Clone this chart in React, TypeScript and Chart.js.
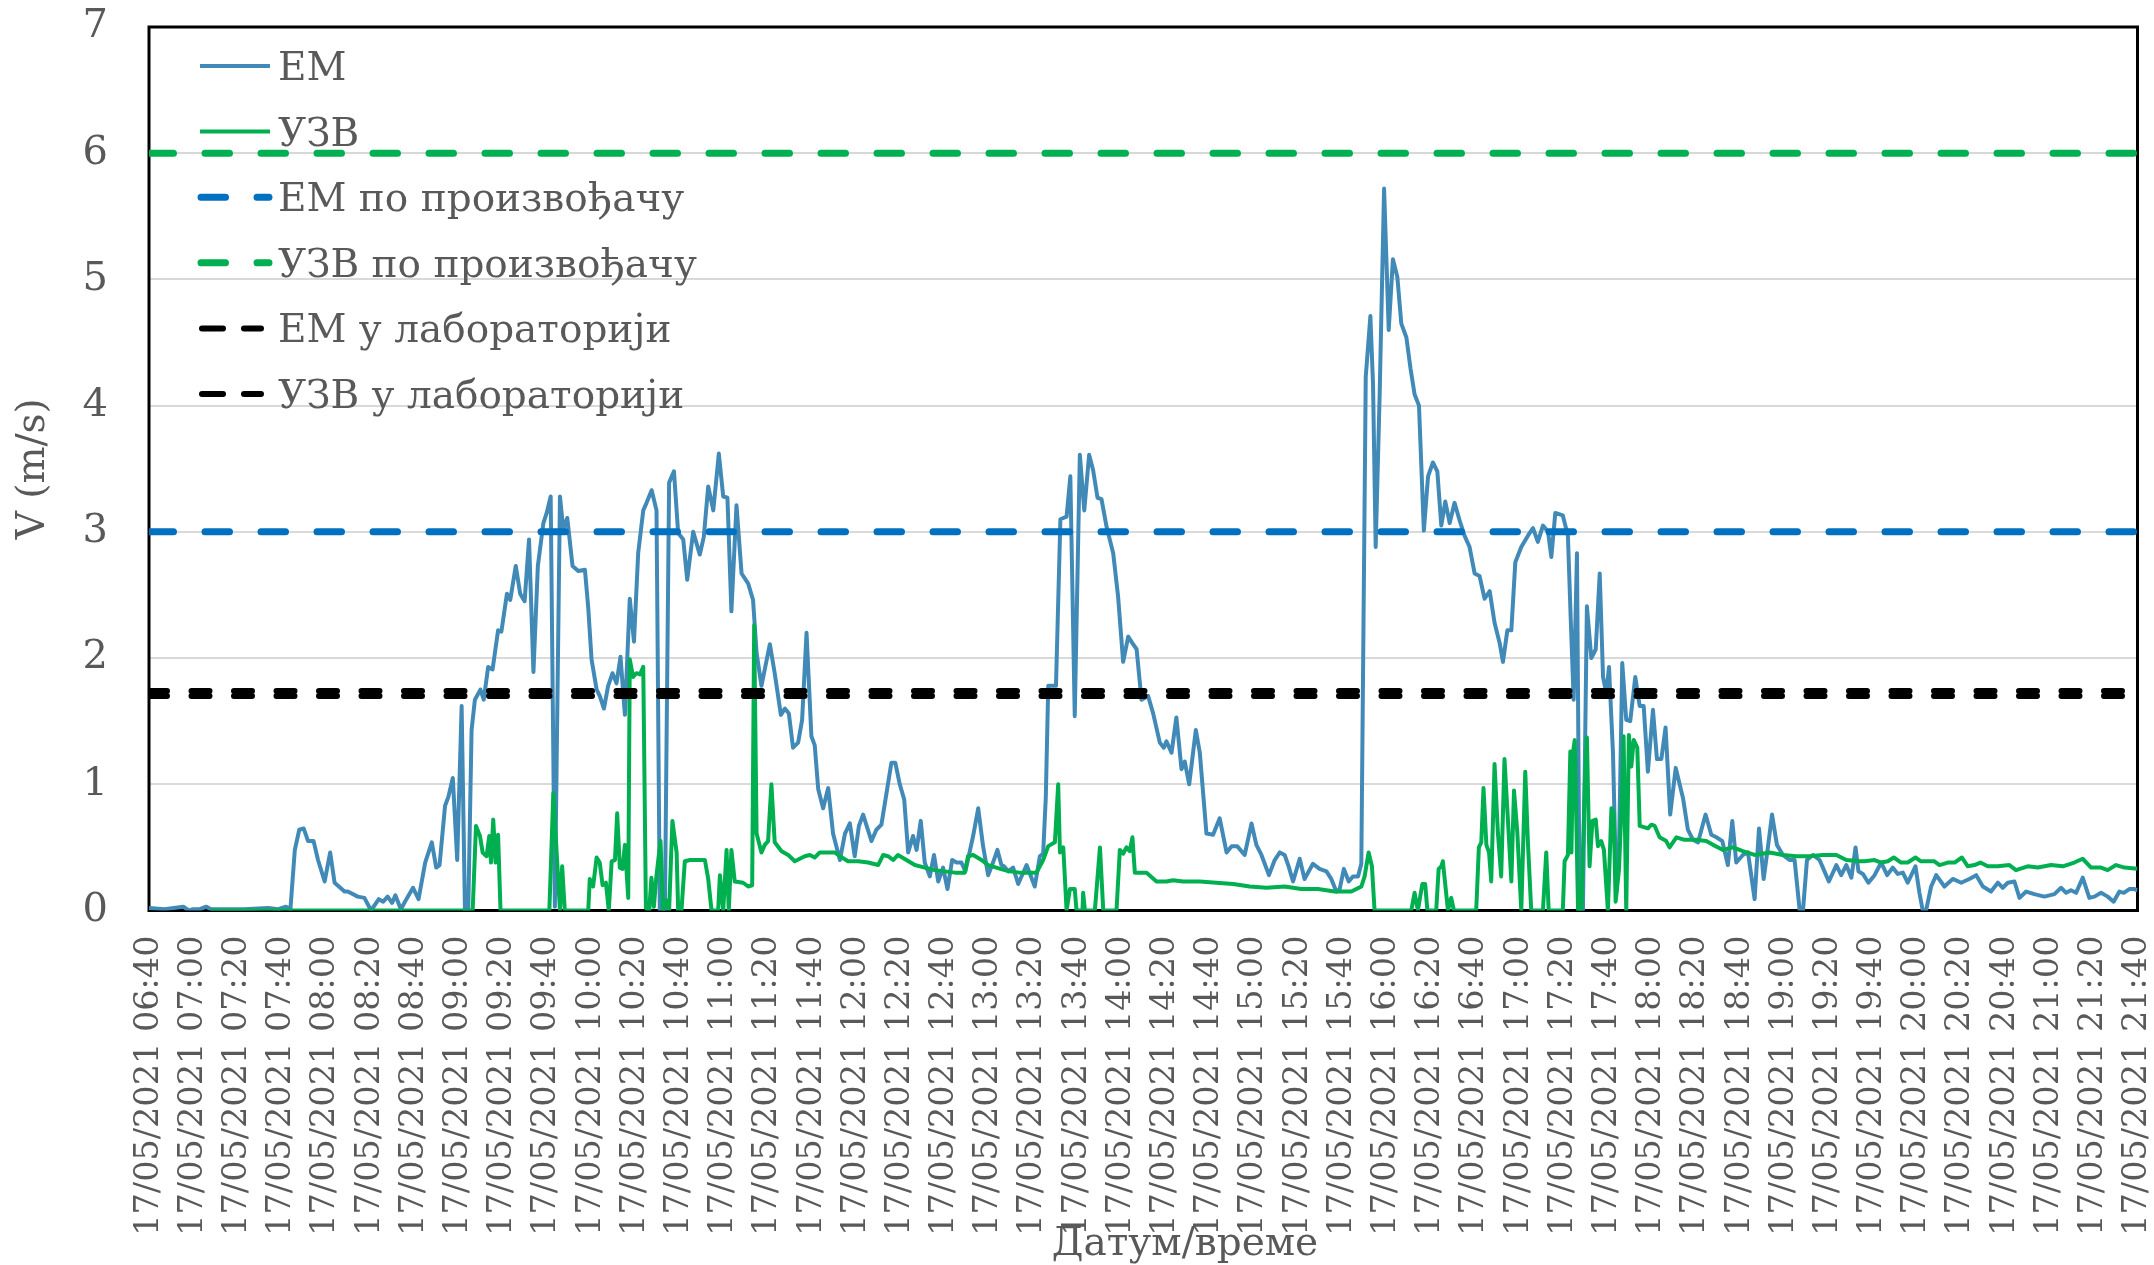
import React, { useEffect, useRef } from 'react';
import { Chart, registerables } from 'chart.js';

Chart.register(...registerables);

// ---------- data ----------
const DATE = '17/05/2021';
const X_MIN = 400; // minutes since midnight (06:40)
const X_MAX = 1300; // 21:40
const X_STEP = 20;
const tickTimes = [
  '06:40', '07:00', '07:20', '07:40', '08:00', '08:20', '08:40', '09:00', '09:20', '09:40',
  '10:00', '10:20', '10:40', '11:00', '11:20', '11:40', '12:00', '12:20', '12:40', '13:00',
  '13:20', '13:40', '14:00', '14:20', '14:40', '15:00', '15:20', '15:40', '16:00', '16:20',
  '16:40', '17:00', '17:20', '17:40', '18:00', '18:20', '18:40', '19:00', '19:20', '19:40',
  '20:00', '20:20', '20:40', '21:00', '21:20', '21:40',
];
const yTicks = [0, 1, 2, 3, 4, 5, 6, 7];

const seriesLabels = [
  'ЕМ',
  'УЗВ',
  'ЕМ по произвођачу',
  'УЗВ по произвођачу',
  'ЕМ у лабораторији',
  'УЗВ у лабораторији',
];

// [minute of day, V (m/s)]
const emSeries: [number, number][] = [
  [400, 0.02], [407, 0.01], [415.5, 0.03], [418, 0], [420, 0.01], [423, 0.01], [426, 0.03], [428, 0.01],
  [443, 0.01], [454, 0.02], [458.5, 0.01], [462, 0.03], [464, 0.01], [466, 0.48], [468, 0.64], [470, 0.65],
  [472, 0.55], [474.5, 0.55], [476.5, 0.4], [479.5, 0.23], [482, 0.46], [484, 0.22], [488.5, 0.15], [490, 0.15],
  [494.5, 0.11], [497.5, 0.1], [500.5, 0], [504, 0.09], [506, 0.07], [508, 0.11], [510, 0.06], [511.5, 0.12],
  [514, 0.01], [516.5, 0.09], [519.5, 0.18], [522, 0.09], [525, 0.38], [528, 0.54], [530, 0.34], [531.5, 0.36],
  [534, 0.83], [535.5, 0.9], [537.5, 1.05], [539.5, 0.4], [541.5, 1.62], [543, 0], [544.5, 0], [546, 1.43],
  [547.5, 1.67], [550, 1.75], [551.5, 1.67], [553.5, 1.93], [555.5, 1.91], [558, 2.22], [559.5, 2.21], [562, 2.51],
  [563.5, 2.46], [566, 2.73], [568, 2.51], [570, 2.45], [572, 2.94], [574, 1.89], [576, 2.73], [578.5, 3.07],
  [580, 3.15], [581.8, 3.28], [583.7, 0.03], [586, 3.28], [587.5, 3.02], [589.3, 3.11], [591.7, 2.73], [594.3, 2.69],
  [597.3, 2.7], [598.8, 2.4], [600.3, 1.99], [602.6, 1.75], [604, 1.7], [605.9, 1.6], [607.8, 1.78], [609.8, 1.88],
  [611.6, 1.8], [613.4, 2.01], [615.4, 1.55], [617.6, 2.47], [619.5, 2.13], [621.4, 2.83], [623.7, 3.17], [625.2, 3.23],
  [627.5, 3.33], [629.7, 3.17], [631.2, 0], [633.5, 0], [635.4, 3.39], [637.6, 3.48], [639.5, 2.99], [641.8, 2.94],
  [643.6, 2.62], [646.3, 3.0], [649.3, 2.82], [651.1, 2.96], [653.1, 3.36], [655.4, 3.17], [657.9, 3.62], [659.9, 3.28],
  [661.8, 3.27], [663.6, 2.37], [665.9, 3.21], [668.2, 2.67], [671.2, 2.59], [673.4, 2.46], [675, 2.04], [677.2, 1.78],
  [681, 2.11], [683.2, 1.88], [686, 1.55], [687.8, 1.6], [689.6, 1.56], [691.5, 1.29], [693.8, 1.33], [695.6, 1.51],
  [697.6, 2.2], [699.8, 1.38], [701.3, 1.31], [702.9, 0.96], [705.1, 0.81], [707.4, 0.97], [709.6, 0.61], [712.7, 0.4],
  [715, 0.61], [717.2, 0.69], [719.4, 0.43], [721.3, 0.67], [723.2, 0.76], [727, 0.55], [729.2, 0.64], [731.5, 0.68],
  [733.8, 0.93], [736, 1.17], [737.8, 1.17], [739.8, 1.0], [741.8, 0.88], [743.6, 0.46], [745.8, 0.59], [747.4, 0.48],
  [749.3, 0.71], [751.1, 0.38], [753.4, 0.27], [755.3, 0.44], [757.2, 0.23], [759.4, 0.34], [761.4, 0.17], [763.5, 0.4],
  [765.5, 0.38], [767.7, 0.38], [769.5, 0.31], [773, 0.59], [775.3, 0.81], [777.5, 0.51], [779.8, 0.28], [782, 0.38],
  [784, 0.48], [785.8, 0.36], [787, 0.35], [788.9, 0.31], [791.1, 0.34], [793.4, 0.21], [797.2, 0.36], [800.9, 0.19],
  [803.2, 0.43], [804.7, 0.45], [805.9, 0.9], [807, 1.78], [810.5, 1.78], [812.5, 3.1], [815.3, 3.12], [817, 3.44],
  [819, 1.54], [821.3, 3.61], [823.3, 3.17], [825.5, 3.61], [827.3, 3.49], [829.3, 3.27], [831.1, 3.26], [833.4, 3.04],
  [836.4, 2.83], [838.6, 2.49], [840.9, 1.97], [843.2, 2.17], [845, 2.12], [847, 2.07], [849.2, 1.67], [852.2, 1.7],
  [854.5, 1.56], [857.5, 1.33], [859.3, 1.29], [860.5, 1.34], [862.8, 1.25], [865, 1.53], [867.3, 1.12], [868.8, 1.18],
  [870.8, 1.0], [873.8, 1.43], [875.6, 1.25], [878.6, 0.61], [881.6, 0.6], [884.6, 0.73], [887.7, 0.46], [890, 0.51],
  [892.5, 0.51], [895.9, 0.44], [899, 0.69], [901.2, 0.52], [903.5, 0.44], [906.9, 0.28], [909.5, 0.4], [911.8, 0.46],
  [914, 0.44], [915.8, 0.35], [917.8, 0.23], [920.8, 0.41], [923, 0.25], [926.8, 0.37], [929.8, 0.33], [932.9, 0.31],
  [935.1, 0.25], [937.4, 0.15], [938.9, 0.17], [940.8, 0.33], [943, 0.23], [944.9, 0.27], [947.2, 0.27], [948.7, 0.37],
  [950.7, 4.23], [952.8, 4.71], [954, 4.17], [955.2, 2.88], [957, 4.09], [959, 5.72], [961.1, 4.6], [963, 5.16],
  [965, 5.02], [966.8, 4.65], [969.1, 4.54], [971, 4.29], [972.8, 4.09], [974.8, 4.0], [977, 3.01], [978.9, 3.44],
  [981.1, 3.55], [983.1, 3.48], [984.9, 3.05], [986.7, 3.24], [988.7, 3.07], [990.9, 3.23], [993.2, 3.09], [995.4, 2.97],
  [997.7, 2.88], [1000, 2.67], [1002.2, 2.65], [1004.5, 2.47], [1006.8, 2.53], [1009, 2.28], [1011.3, 2.12], [1012.8, 1.97],
  [1014.8, 2.22], [1016.6, 2.22], [1018.4, 2.76], [1021.1, 2.88], [1024.1, 2.97], [1026.4, 3.03], [1028.6, 2.92], [1030.9, 3.05],
  [1033.2, 3.0], [1034.7, 2.8], [1036.5, 3.15], [1039.9, 3.13], [1042.2, 2.97], [1043.5, 2.3], [1044.8, 1.67], [1046.3, 2.83],
  [1047.5, 0], [1049, 0], [1050.8, 2.41], [1052.8, 2.0], [1054.8, 2.07], [1056.6, 2.67], [1058.1, 1.85], [1059.6, 1.72],
  [1060.8, 1.93], [1062.6, 1.25], [1064.1, 0.14], [1065.3, 0.45], [1066.8, 1.96], [1068.6, 1.51], [1070.4, 1.5], [1072.7, 1.85],
  [1074.7, 1.62], [1076.5, 1.62], [1078.4, 1.1], [1080.7, 1.59], [1082.5, 1.2], [1084.5, 1.2], [1086.4, 1.45], [1088.5, 0.76],
  [1091, 1.13], [1094.3, 0.89], [1096.5, 0.64], [1098.8, 0.56], [1101.1, 0.54], [1104.5, 0.76], [1107.1, 0.6], [1109.4, 0.58],
  [1112.1, 0.55], [1114.6, 0.36], [1116.6, 0.71], [1118.4, 0.38], [1121.4, 0.44], [1123.7, 0.46], [1126.7, 0.09], [1128.7, 0.65],
  [1130.8, 0.25], [1132.7, 0.5], [1134.6, 0.76], [1136.8, 0.52], [1139.5, 0.44], [1142.5, 0.4], [1144.8, 0.4], [1147.1, 0],
  [1148.6, 0], [1150.4, 0.4], [1153.1, 0.44], [1156.1, 0.4], [1157.6, 0.34], [1160.3, 0.23], [1163.7, 0.36], [1165.9, 0.28],
  [1168.2, 0.36], [1170.5, 0.26], [1172.4, 0.5], [1173.7, 0.31], [1175.7, 0.29], [1178.2, 0.22], [1181, 0.28], [1184, 0.38],
  [1186.7, 0.28], [1189.2, 0.34], [1191.5, 0.29], [1193.8, 0.3], [1196, 0.22], [1199.5, 0.35], [1201.3, 0.14], [1202.8, 0],
  [1204.3, 0], [1206.6, 0.19], [1208.9, 0.28], [1212.6, 0.19], [1216.4, 0.25], [1220.2, 0.22], [1223.9, 0.25], [1227, 0.28],
  [1230, 0.19], [1233.7, 0.15], [1236.8, 0.22], [1239, 0.18], [1241.3, 0.22], [1244.3, 0.23], [1246.6, 0.1], [1249.6, 0.15],
  [1253.3, 0.13], [1257.9, 0.11], [1262.4, 0.13], [1265.4, 0.18], [1267.7, 0.14], [1269.9, 0.16], [1272.2, 0.14], [1275.2, 0.26],
  [1278.2, 0.1], [1280.5, 0.11], [1283.5, 0.14], [1286.5, 0.11], [1289.2, 0.07], [1291.8, 0.15], [1293.8, 0.14], [1296.3, 0.17],
  [1298.6, 0.17], [1300, 0.16],
];

const uzvSeries: [number, number][] = [
  [428, 0], [527, 0], [546.5, 0], [548, 0.67], [549.8, 0.59], [551, 0.46], [552.8, 0.43], [554, 0.59],
  [554.8, 0.38], [555.8, 0.72], [556.9, 0.38], [558, 0.6], [559.1, 0], [581.2, 0], [583, 0.93], [584.5, 0.46],
  [586, 0], [587, 0.35], [588.2, 0], [598.8, 0], [599.5, 0.25], [601, 0.19], [602.6, 0.42], [604, 0.38],
  [605.3, 0.2], [606.8, 0.22], [608.1, 0], [609.4, 0.39], [610.9, 0.4], [611.9, 0.77], [613.1, 0.34], [614.3, 0.33],
  [615.4, 0.52], [616.9, 0.1], [617.6, 1.99], [619.1, 1.85], [620.6, 1.88], [622.2, 1.87], [623.7, 1.93], [624.9, 0.02],
  [626.4, 0], [627.4, 0.26], [628.5, 0.03], [629.7, 0.28], [631.5, 0.55], [632.7, 0], [634.2, 0.08], [635.4, 0],
  [636.9, 0.71], [638.8, 0.46], [639.5, 0], [641, 0], [642.5, 0.39], [644.8, 0.4], [651.6, 0.4], [653.1, 0.25],
  [654.6, 0], [657.6, 0], [658.4, 0.28], [659.9, 0], [661.4, 0.48], [662.4, 0], [663.6, 0.48], [665.1, 0.23],
  [668.9, 0.22], [671.2, 0.19], [673, 0.2], [673.9, 2.26], [675, 0.61], [677.2, 0.46], [678.7, 0.52], [680.2, 0.55],
  [681.7, 1.0], [683.2, 0.54], [686.3, 0.47], [689.3, 0.44], [692.3, 0.39], [696.8, 0.43], [699.1, 0.44], [701.3, 0.42],
  [703.6, 0.46], [708.9, 0.46], [710.4, 0.46], [712.7, 0.43], [716.4, 0.39], [721, 0.39], [725.5, 0.38], [730, 0.36],
  [732.3, 0.44], [734.5, 0.43], [736.8, 0.4], [739, 0.44], [742.8, 0.4], [746.6, 0.36], [751.1, 0.34], [755.6, 0.32],
  [760.2, 0.31], [764.7, 0.3], [769.2, 0.3], [770.7, 0.43], [773, 0.44], [776.8, 0.4], [779.8, 0.36], [783.5, 0.34],
  [787.3, 0.32], [789.6, 0.31], [794.1, 0.3], [798.7, 0.3], [801.7, 0.3], [804.7, 0.4], [807, 0.51], [810, 0.54],
  [811.5, 1.0], [812.3, 0.46], [813.8, 0.5], [815.3, 0], [816.8, 0.17], [819, 0.17], [819.8, 0], [822.5, 0],
  [822.8, 0.14], [823.6, 0], [828.1, 0], [830.4, 0.5], [831.9, 0], [837.9, 0], [839.4, 0.48], [840.9, 0.45],
  [842.4, 0.5], [843.9, 0.47], [845.1, 0.58], [846.2, 0.3], [851.5, 0.3], [856, 0.23], [860.5, 0.23], [863.5, 0.24],
  [868, 0.23], [875.6, 0.23], [883.1, 0.22], [890.7, 0.21], [898.2, 0.19], [905.8, 0.18], [914, 0.19], [921.5, 0.17],
  [929.1, 0.17], [936.6, 0.15], [944.2, 0.15], [948.7, 0.19], [950.2, 0.27], [952, 0.46], [953.5, 0.35], [954.7, 0],
  [971.3, 0], [972.8, 0.14], [974.3, 0], [976.3, 0.21], [977.6, 0.21], [978.6, 0], [982.6, 0], [983.7, 0.33],
  [984.9, 0.35], [985.6, 0.39], [987.2, 0.12], [987.9, 0], [989.4, 0.1], [990.6, 0], [1000.7, 0], [1001.9, 0.5],
  [1003, 0.54], [1004, 0.97], [1005.3, 0.52], [1006.5, 0.46], [1007.5, 0.23], [1009, 1.16], [1010.5, 0.62], [1012, 0.27],
  [1013.5, 1.2], [1015.1, 0.7], [1016.6, 0.23], [1017.8, 0.95], [1019.3, 0.62], [1021.1, 0], [1022.9, 1.1], [1024.1, 0.54],
  [1025.6, 0], [1030.9, 0], [1032.4, 0.46], [1033.5, 0], [1039.9, 0], [1040.7, 0.39], [1042.2, 0.44], [1043.3, 1.26],
  [1043.8, 0.46], [1044.5, 1.25], [1045.3, 1.35], [1046.8, 0], [1048.3, 0], [1049.8, 0.98], [1050.8, 1.37], [1052, 0.35],
  [1053.3, 0.71], [1054.8, 0.72], [1055.8, 0.51], [1057.3, 0.55], [1058.5, 0.48], [1060.3, 0], [1061.9, 0.81], [1062.9, 0.77],
  [1063.8, 0.07], [1065.3, 0.32], [1066.8, 0.96], [1067.4, 1.38], [1068.6, 0], [1069.8, 1.39], [1070.9, 1.14], [1072, 1.35],
  [1073.6, 1.29], [1074.7, 0.67], [1078.4, 0.65], [1080, 0.68], [1081.5, 0.67], [1083.7, 0.58], [1086.7, 0.55], [1088.2, 0.5],
  [1091.3, 0.58], [1095, 0.56], [1100.3, 0.56], [1104.8, 0.55], [1107.9, 0.52], [1112.4, 0.48], [1116.9, 0.5], [1121.4, 0.47],
  [1126.7, 0.44], [1133.5, 0.46], [1139.5, 0.44], [1145.6, 0.43], [1151.6, 0.43], [1157.6, 0.44], [1163.7, 0.44], [1168.2, 0.4],
  [1174.2, 0.39], [1176.4, 0.39], [1181, 0.4], [1184, 0.38], [1187, 0.39], [1189.7, 0.42], [1193, 0.38], [1196, 0.38],
  [1199.5, 0.42], [1202, 0.39], [1208.1, 0.39], [1210.4, 0.36], [1214.1, 0.38], [1217.2, 0.38], [1220.5, 0.42], [1223.2, 0.35],
  [1226.2, 0.36], [1228.9, 0.38], [1232.2, 0.35], [1236.8, 0.35], [1242, 0.36], [1245, 0.32], [1250.3, 0.35], [1254.9, 0.34],
  [1260.9, 0.36], [1266.2, 0.35], [1271.4, 0.38], [1275.2, 0.41], [1279, 0.34], [1283.5, 0.34], [1286.5, 0.32], [1290.3, 0.36],
  [1294.1, 0.34], [1300, 0.33],
];

const emManufacturer = 3;
const uzvManufacturer = 6;
const emLab = 1.74;
const uzvLab = 1.7;

const xTitle = 'Датум/време';
const yTitle = 'V (m/s)';

// ---------- styles ----------
const FONT = '"DejaVu Serif", "Liberation Serif", serif';
const TEXT = '#595959';
const EM_COLOR = '#418AB8';
const UZV_COLOR = '#00B050';
const BLUE_REF = '#0070C0';
const GREEN_REF = '#00B050';
const BLACK_REF = '#000000';

const legendStyles = [
  { color: EM_COLOR, width: 4, dash: [] as number[], x0: 51, x1: 121 },
  { color: UZV_COLOR, width: 4, dash: [] as number[], x0: 51, x1: 121 },
  { color: BLUE_REF, width: 7, dash: [24.5, 31.5], x0: 52, x1: 120 },
  { color: GREEN_REF, width: 7, dash: [24.5, 31.5], x0: 52, x1: 120 },
  { color: BLACK_REF, width: 6, dash: [21, 21], x0: 53, x1: 112 },
  { color: BLACK_REF, width: 6, dash: [21, 21], x0: 53, x1: 112 },
];

const toXY = (s: [number, number][]) => s.map(([x, y]) => ({ x, y }));
const hLine = (v: number) => [{ x: X_MIN, y: v }, { x: X_MAX, y: v }];

const decorPlugin = {
  id: 'decor',
  beforeDatasetsDraw(chart: any) {
    const { ctx, chartArea: a } = chart;
    ctx.save();
    ctx.strokeStyle = '#000';
    ctx.lineWidth = 3;
    ctx.strokeRect(a.left, a.top, a.right - a.left, a.bottom - a.top);
    ctx.restore();
  },
  afterDraw(chart: any) {
    const { ctx, chartArea: a } = chart;
    ctx.save();
    // legend
    ctx.font = `39px ${FONT}`;
    ctx.textBaseline = 'alphabetic';
    ctx.textAlign = 'left';
    seriesLabels.forEach((label, i) => {
      const st = legendStyles[i];
      const y = a.top + 39 + i * 65.6;
      ctx.beginPath();
      ctx.setLineDash(st.dash);
      ctx.lineCap = st.dash.length ? 'round' : 'butt';
      ctx.strokeStyle = st.color;
      ctx.lineWidth = st.width;
      ctx.moveTo(a.left + st.x0, y);
      ctx.lineTo(a.left + st.x1, y);
      ctx.stroke();
      ctx.setLineDash([]);
      ctx.fillStyle = TEXT;
      ctx.fillText(label, a.left + 129, y + 14);
    });
    // axis titles
    ctx.fillStyle = TEXT;
    ctx.font = `39px ${FONT}`;
    ctx.textAlign = 'center';
    ctx.textBaseline = 'alphabetic';
    ctx.fillText(xTitle, 1185, 1255);
    ctx.save();
    ctx.translate(34, (a.top + a.bottom) / 2);
    ctx.rotate(-Math.PI / 2);
    ctx.textBaseline = 'middle';
    ctx.fillText(yTitle, 0, 0);
    ctx.restore();
    ctx.restore();
  },
};

export default function App() {
  const canvasRef = useRef<HTMLCanvasElement | null>(null);

  useEffect(() => {
    document.body.style.margin = '0';
    const canvas = canvasRef.current;
    if (!canvas) return;

    const refLine = (label: string, v: number, color: string, width: number, dash: number[], order: number) => ({
      label,
      data: hLine(v),
      borderColor: color,
      backgroundColor: color,
      borderWidth: width,
      borderDash: dash,
      borderCapStyle: 'round',
      pointRadius: 0,
      fill: false,
      order,
    });

    const chart = new Chart(canvas, {
      type: 'line',
      data: {
        datasets: [
          {
            label: seriesLabels[0],
            data: toXY(emSeries),
            borderColor: EM_COLOR,
            backgroundColor: EM_COLOR,
            borderWidth: 4,
            borderJoinStyle: 'round',
            pointRadius: 0,
            tension: 0,
            fill: false,
            order: 6,
          },
          {
            label: seriesLabels[1],
            data: toXY(uzvSeries),
            borderColor: UZV_COLOR,
            backgroundColor: UZV_COLOR,
            borderWidth: 4,
            borderJoinStyle: 'round',
            pointRadius: 0,
            tension: 0,
            fill: false,
            order: 5,
          },
          refLine(seriesLabels[2], emManufacturer, BLUE_REF, 7, [24.5, 31.5], 4),
          refLine(seriesLabels[3], uzvManufacturer, GREEN_REF, 7, [24.5, 31.5], 3),
          refLine(seriesLabels[4], emLab, BLACK_REF, 6, [18, 24.5], 2),
          refLine(seriesLabels[5], uzvLab, BLACK_REF, 6, [18, 24.5], 1),
        ] as any,
      },
      options: {
        responsive: false,
        maintainAspectRatio: false,
        devicePixelRatio: 1,
        animation: false,
        events: [],
        layout: { padding: { top: 27, right: 16.5, left: 0, bottom: 0 } },
        plugins: {
          legend: { display: false },
          tooltip: { enabled: false },
          title: { display: false },
        },
        scales: {
          x: {
            type: 'linear',
            min: X_MIN,
            max: X_MAX,
            grid: { display: false, drawTicks: false },
            border: { display: false },
            ticks: {
              stepSize: X_STEP,
              maxTicksLimit: 200,
              autoSkip: false,
              minRotation: 90,
              maxRotation: 90,
              padding: 25,
              color: TEXT,
              font: { family: FONT, size: 33.5 },
              callback: (v: any) => {
                const i = Math.round((Number(v) - X_MIN) / X_STEP);
                return tickTimes[i] ? `${DATE} ${tickTimes[i]}` : '';
              },
            },
            afterFit: (s: any) => {
              s.height = 354.5;
              s.paddingLeft = 0;
              s.paddingRight = 0;
            },
          },
          y: {
            type: 'linear',
            min: yTicks[0],
            max: yTicks[yTicks.length - 1],
            grid: {
              color: (c: any) => (c.tick && (c.tick.value === 0 || c.tick.value === 7) ? 'rgba(0,0,0,0)' : '#D9D9D9'),
              lineWidth: 2,
              drawTicks: false,
            },
            border: { display: false },
            ticks: {
              stepSize: 1,
              padding: 41,
              color: TEXT,
              font: { family: FONT, size: 40 },
            },
            afterFit: (s: any) => {
              s.width = 149;
              s.paddingTop = 0;
              s.paddingBottom = 0;
            },
          },
        },
      } as any,
      plugins: [decorPlugin],
    });

    return () => chart.destroy();
  }, []);

  return (
    <div style={{ width: 2154, height: 1265, position: 'relative', background: '#fff' }}>
      <canvas ref={canvasRef} width={2154} height={1265} style={{ display: 'block', width: 2154, height: 1265 }} />
    </div>
  );
}
